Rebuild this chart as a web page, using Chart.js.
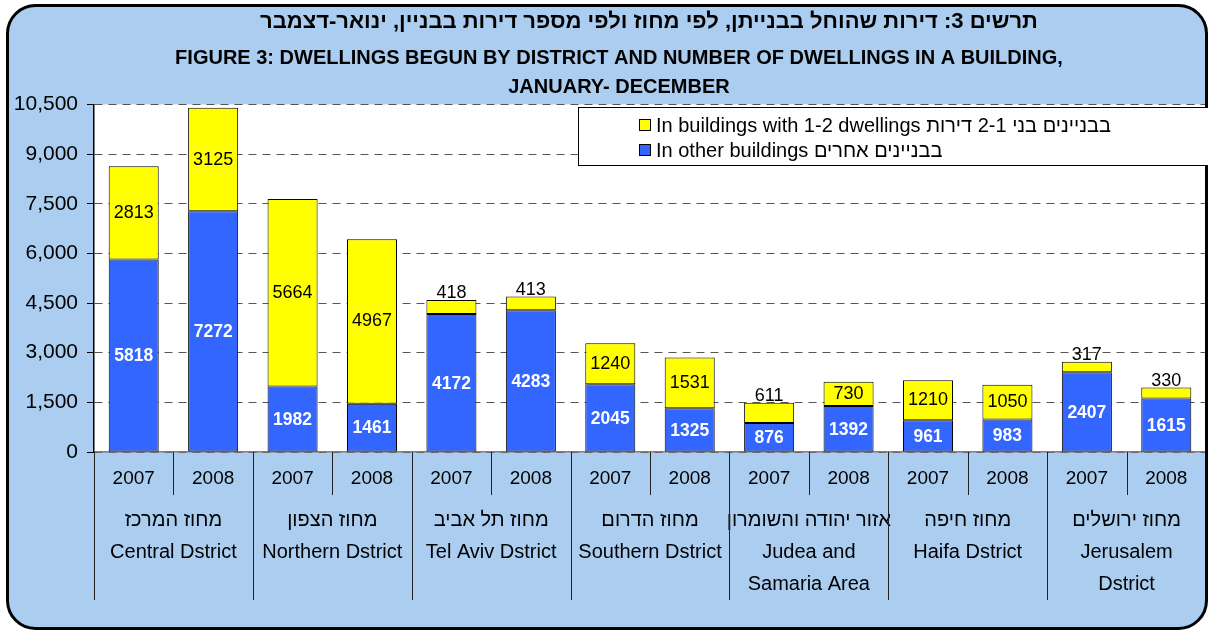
<!DOCTYPE html>
<html>
<head>
<meta charset="utf-8">
<script src="https://cdn.jsdelivr.net/npm/chart.js@4.4.1/dist/chart.umd.min.js"></script>
<style>
    html, body { margin: 0; padding: 0; background: #fff; }
    canvas { display: block; }
</style>
</head>
<body>
<canvas id="dwellingsChart" width="1208" height="632"></canvas>
<script>
// Data
const years = ['2007', '2008', '2007', '2008', '2007', '2008', '2007', '2008', '2007', '2008', '2007', '2008', '2007', '2008'];
const districts = [
    ['מחוז המרכז', 'Central Dstrict'],
    ['מחוז הצפון', 'Northern Dstrict'],
    ['מחוז תל אביב', 'Tel Aviv Dstrict'],
    ['מחוז הדרום', 'Southern Dstrict'],
    ['אזור יהודה והשומרון', 'Judea and', 'Samaria Area'],
    ['מחוז חיפה', 'Haifa Dstrict'],
    ['מחוז ירושלים', 'Jerusalem', 'Dstrict']
];
const otherBuildings = [5818, 7272, 1982, 1461, 4172, 4283, 2045, 1325, 876, 1392, 961, 983, 2407, 1615];
const smallBuildings = [2813, 3125, 5664, 4967, 418, 413, 1240, 1531, 611, 730, 1210, 1050, 317, 330];
const yTicks = [0, 1500, 3000, 4500, 6000, 7500, 9000, 10500];

const titleHe = 'תרשים 3: דירות שהוחל בבנייתן, לפי מחוז ולפי מספר דירות בבניין, ינואר-דצמבר';
const titleEn = ['FIGURE 3: DWELLINGS BEGUN BY DISTRICT AND NUMBER OF DWELLINGS IN A BUILDING,', 'JANUARY- DECEMBER'];
const labelOther = 'In other buildings בבניינים אחרים';
const labelSmall = 'In buildings with 1-2 dwellings בבניינים בני 2-1 דירות';

const FONT = "'Liberation Sans', Arial, sans-serif";
const BLUE = '#3366ff';
const YELLOW = '#ffff00';
const PANEL = '#abcdf0';

// background panel, white plot area and frame
const framePlugin = {
    id: 'frame',
    beforeDraw(chart) {
        const { ctx, chartArea: a } = chart;
        ctx.save();
        ctx.fillStyle = '#fff';
        ctx.fillRect(0, 0, chart.width, chart.height);
        ctx.beginPath();
        ctx.roundRect(7.5, 5.5, 1199, 623, 28);
        ctx.fillStyle = PANEL;
        ctx.fill();
        ctx.fillStyle = '#fff';
        ctx.fillRect(a.left, a.top, a.right - a.left, a.bottom - a.top);
        ctx.restore();
    },
    afterDraw(chart) {
        const ctx = chart.ctx;
        ctx.save();
        ctx.beginPath();
        ctx.roundRect(7.5, 5.5, 1199, 623, 28);
        ctx.lineWidth = 3;
        ctx.strokeStyle = '#000';
        ctx.stroke();
        ctx.restore();
    }
};

// the title lines sit a little right of centre in the original,
// so the title boxes only reserve the space and the text is drawn here
const titlePlugin = {
    id: 'titleText',
    afterDraw(chart) {
        const ctx = chart.ctx;
        const tb = chart.titleBlock;
        const sb = chart.subtitleBlock || chart.boxes.find(b => b.options && b.options.text === titleEn);
        const topt = chart.options.plugins.title;
        const sopt = chart.options.plugins.subtitle;
        const cx = (tb.left + tb.right) / 2;
        ctx.save();
        ctx.fillStyle = '#000';
        ctx.textBaseline = 'middle';
        ctx.textAlign = 'center';
        ctx.font = 'bold ' + topt.font.size + 'px ' + FONT;
        ctx.direction = 'rtl';
        ctx.fillText(titleHe, cx + 46, tb.top + topt.padding.top + topt.font.size * topt.font.lineHeight / 2 + 2);
        ctx.direction = 'ltr';
        ctx.font = 'bold ' + sopt.font.size + 'px ' + FONT;
        const lh = sopt.font.size * sopt.font.lineHeight;
        titleEn.forEach((line, k) => {
            ctx.fillText(line, cx + 16, sb.top + lh / 2 + k * lh + 2);
        });
        ctx.restore();
    }
};

// table-like separators under the plot
const separatorPlugin = {
    id: 'separators',
    afterDraw(chart) {
        const { ctx } = chart;
        const x = chart.scales.x;
        const x2 = chart.scales.x2;
        ctx.save();
        ctx.strokeStyle = '#222';
        ctx.lineWidth = 1;
        for (let i = 0; i < years.length; i++) {
            const px = Math.round(x.getPixelForValue(i - 0.5)) + 0.5;
            const bottom = i % 2 === 0 ? x2.bottom - 32 : x.bottom;
            ctx.beginPath();
            ctx.moveTo(px, x.top);
            ctx.lineTo(px, bottom);
            ctx.stroke();
        }
        ctx.restore();
    }
};

// value labels on the bar segments
const valuePlugin = {
    id: 'values',
    afterDatasetsDraw(chart) {
        const ctx = chart.ctx;
        ctx.save();
        ctx.textAlign = 'center';
        chart.data.datasets.forEach((ds, di) => {
            const meta = chart.getDatasetMeta(di);
            meta.data.forEach((bar, i) => {
                const { x, y, base } = bar.getProps(['x', 'y', 'base'], true);
                const h = base - y;
                if (di === 0) {
                    ctx.font = 'bold 17.5px ' + FONT;
                    ctx.fillStyle = '#fff';
                    ctx.textBaseline = 'middle';
                    ctx.fillText(ds.data[i], x, (y + base) / 2 + 1);
                } else {
                    ctx.font = '18px ' + FONT;
                    ctx.fillStyle = '#000';
                    if (h < 22) {
                        ctx.textBaseline = 'bottom';
                        ctx.fillText(ds.data[i], x, y + 2);
                    } else {
                        ctx.textBaseline = 'middle';
                        ctx.fillText(ds.data[i], x, (y + base) / 2);
                    }
                }
            });
        });
        ctx.restore();
    }
};

// legend box inside the plot, yellow first like the original
const legendPlugin = {
    id: 'boxLegend',
    afterDraw(chart) {
        const ctx = chart.ctx;
        const items = [chart.data.datasets[1], chart.data.datasets[0]];
        ctx.save();
        ctx.fillStyle = '#fff';
        ctx.fillRect(578.5, 107.5, 630, 58);
        ctx.strokeStyle = '#000';
        ctx.lineWidth = 1;
        ctx.strokeRect(578.5, 107.5, 630, 58);
        ctx.font = '20px ' + FONT;
        ctx.textBaseline = 'middle';
        ctx.textAlign = 'left';
        items.forEach((ds, k) => {
            const cy = 125 + k * 25;
            ctx.fillStyle = ds.backgroundColor;
            ctx.fillRect(639.5, cy - 5.5, 11, 11);
            ctx.strokeRect(639.5, cy - 5.5, 11, 11);
            ctx.fillStyle = '#000';
            ctx.fillText(ds.label, 656, cy + 1);
        });
        ctx.restore();
    }
};

new Chart(document.getElementById('dwellingsChart'), {
    type: 'bar',
    data: {
        labels: years,
        datasets: [
            {
                label: labelOther,
                data: otherBuildings,
                backgroundColor: BLUE,
                borderColor: '#000',
                borderWidth: 1,
                borderSkipped: false
            },
            {
                label: labelSmall,
                data: smallBuildings,
                backgroundColor: YELLOW,
                borderColor: '#000',
                borderWidth: 1,
                borderSkipped: false
            }
        ]
    },
    options: {
        responsive: false,
        animation: false,
        barPercentage: 0.63,
        categoryPercentage: 1,
        layout: { padding: { left: 0, right: 2, top: 0, bottom: 0 } },
        plugins: {
            legend: { display: false },
            tooltip: { enabled: false },
            title: {
                display: true,
                text: titleHe,
                color: 'rgba(0,0,0,0)',
                font: { family: FONT, size: 22, weight: 'bold', lineHeight: 1.2 },
                padding: { top: 7, bottom: 9 }
            },
            subtitle: {
                display: true,
                text: titleEn,
                color: 'rgba(0,0,0,0)',
                font: { family: FONT, size: 20, weight: 'bold', lineHeight: 1.45 },
                padding: { top: 0, bottom: 4 }
            }
        },
        scales: {
            x: {
                stacked: true,
                grid: { display: false, drawTicks: false },
                border: { display: true, color: '#808080', width: 1.5 },
                ticks: { color: '#000', font: { family: FONT, size: 19 }, padding: 15, maxRotation: 0, autoSkip: false },
                afterFit(scale) { scale.height = 43; }
            },
            x2: {
                type: 'category',
                labels: districts,
                offset: true,
                grid: { display: false, drawTicks: false },
                border: { display: false },
                ticks: { color: '#000', font: { family: FONT, size: 20, lineHeight: 1.6 }, padding: 9, maxRotation: 0, autoSkip: false },
                afterFit(scale) { scale.height = 137; }
            },
            y: {
                stacked: true,
                min: 0,
                max: 10500,
                afterBuildTicks(scale) { scale.ticks = yTicks.map(v => ({ value: v })); },
                grid: { color: '#555', lineWidth: 1, tickColor: '#000', tickLength: 7, drawTicks: true },
                border: { display: true, color: '#000', width: 1.5, dash: [8, 6] },
                ticks: {
                    color: '#000',
                    font: { family: FONT, size: 21 },
                    padding: 9,
                    callback: v => v.toLocaleString('en-US')
                },
                afterFit(scale) { scale.width = 94; }
            }
        }
    },
    plugins: [framePlugin, separatorPlugin, valuePlugin, legendPlugin, titlePlugin]
});
</script>
</body>
</html>
